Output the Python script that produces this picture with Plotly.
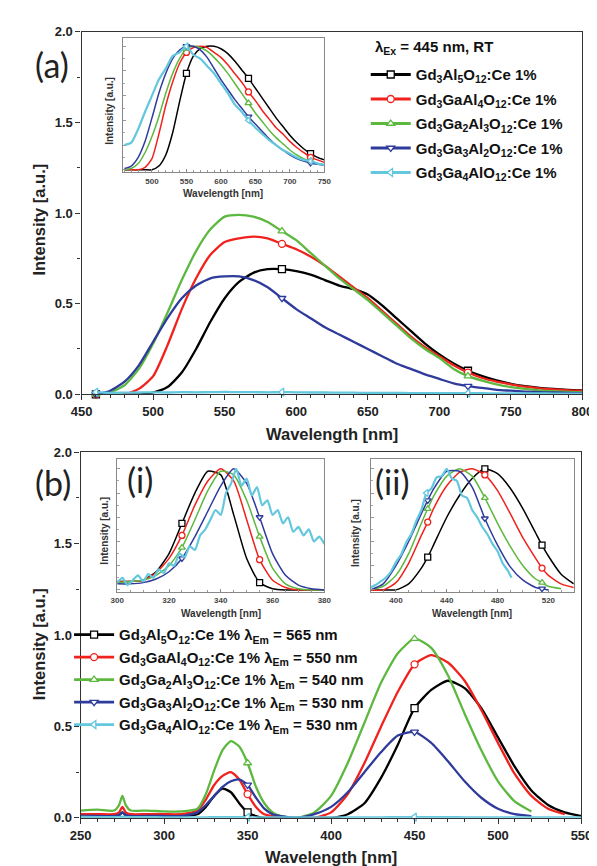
import plotly.graph_objects as go

W, H = 597, 866
FONT = "Liberation Sans, Arial, sans-serif"
LABEL_FONT = "Lato, Open Sans, sans-serif"

# ---------------- labels ----------------
SAMPLES = [
    "Gd<sub>3</sub>Al<sub>5</sub>O<sub>12</sub>:Ce 1%",
    "Gd<sub>3</sub>GaAl<sub>4</sub>O<sub>12</sub>:Ce 1%",
    "Gd<sub>3</sub>Ga<sub>2</sub>Al<sub>3</sub>O<sub>12</sub>:Ce 1%",
    "Gd<sub>3</sub>Ga<sub>3</sub>Al<sub>2</sub>O<sub>12</sub>:Ce 1%",
    "Gd<sub>3</sub>Ga<sub>4</sub>AlO<sub>12</sub>:Ce 1%",
]
EM_NM = [565, 550, 540, 530, 530]
EX_LABEL = "λ<sub>Ex</sub> = 445 nm, RT"
PANEL_LABELS = ["(a)", "(b)", "(i)", "(ii)"]
X_TITLE = "Wavelength [nm]"
Y_TITLE = "Intensity [a.u.]"

COLORS = ["#000000", "#f0221d", "#5db83f", "#2f3b9b", "#63c7dd"]
SYMBOLS = ["square", "circle", "triangle-up", "triangle-down", "triangle-left"]

# ---------------- panel (a): emission, main ----------------
EMI_X = [460, 470, 480, 490, 500, 510, 520, 530, 540, 550, 560, 570, 580, 590, 600,
         610, 620, 630, 640, 650, 660, 670, 680, 690, 700, 710, 720, 730, 740, 750,
         760, 770, 780, 790, 800]
EMI_BLACK = [0, 0, 0, 0, 0.01, 0.04, 0.12, 0.25, 0.4, 0.53, 0.62, 0.67, 0.69, 0.69, 0.68,
             0.66, 0.63, 0.6, 0.58, 0.55, 0.49, 0.42, 0.35, 0.28, 0.22, 0.17, 0.13, 0.1, 0.077, 0.058,
             0.045, 0.036, 0.03, 0.025, 0.022]
EMI_RED = [0, 0, 0, 0.03, 0.1, 0.27, 0.47, 0.64, 0.77, 0.84, 0.86, 0.87, 0.86, 0.83, 0.8,
           0.76, 0.71, 0.65, 0.59, 0.53, 0.46, 0.39, 0.32, 0.26, 0.21, 0.16, 0.12, 0.09, 0.07, 0.055,
           0.042, 0.033, 0.027, 0.022, 0.02]
EMI_GREEN = [0, 0.01, 0.05, 0.14, 0.28, 0.45, 0.63, 0.79, 0.91, 0.98, 0.99, 0.98, 0.95, 0.9, 0.85,
             0.78, 0.71, 0.64, 0.58, 0.52, 0.45, 0.38, 0.31, 0.25, 0.2, 0.14, 0.1, 0.075, 0.055, 0.04,
             0.03, 0.022, 0.017, 0.013, 0.01]
EMI_BLUE = [0, 0.02, 0.07, 0.16, 0.29, 0.42, 0.53, 0.6, 0.64, 0.65, 0.65, 0.63, 0.59, 0.53, 0.47,
            0.42, 0.37, 0.33, 0.29, 0.25, 0.21, 0.17, 0.14, 0.11, 0.085, 0.06, 0.045, 0.035, 0.025, 0.02,
            0.015, 0.012, 0.01, 0.008, 0.007]
EMI_CYAN = [0.012, 0.008, 0.009, 0.01, 0.011, 0.01, 0.012, 0.011, 0.012, 0.013, 0.012, 0.012, 0.011, 0.012, 0.011,
            0.01, 0.01, 0.009, 0.009, 0.008, 0.008, 0.008, 0.007, 0.007, 0.007, 0.006, 0.006, 0.006, 0.005, 0.005,
            0.005, 0.005, 0.004, 0.004, 0.004]
EMI_MARKS = [460, 590, 720]

# ---------------- panel (a): normalized inset ----------------
INA_X = [460, 470, 480, 490, 500, 510, 520, 530, 540, 550, 560, 570, 580, 590, 600,
         610, 620, 630, 640, 650, 660, 670, 680, 690, 700, 710, 720, 730, 740, 750]
INA_BLACK = [0, 0, 0, 0, 0.0, 0.03, 0.12, 0.3, 0.55, 0.78, 0.92, 0.98, 1.0, 1.0, 0.98,
             0.94, 0.88, 0.81, 0.74, 0.66, 0.58, 0.5, 0.42, 0.35, 0.28, 0.22, 0.17, 0.13, 0.1, 0.08]
INA_RED = [0, 0, 0, 0.02, 0.09, 0.29, 0.52, 0.71, 0.86, 0.95, 0.99, 1.0, 0.99, 0.95, 0.91,
           0.85, 0.78, 0.71, 0.63, 0.56, 0.48, 0.41, 0.34, 0.29, 0.23, 0.18, 0.14, 0.1, 0.08, 0.06]
INA_GREEN = [0, 0.01, 0.05, 0.14, 0.27, 0.43, 0.62, 0.78, 0.9, 0.98, 1.0, 0.99, 0.96, 0.91, 0.85,
             0.78, 0.7, 0.62, 0.54, 0.46, 0.39, 0.32, 0.26, 0.21, 0.16, 0.12, 0.09, 0.07, 0.05, 0.035]
INA_BLUE = [0.01, 0.03, 0.1, 0.23, 0.42, 0.62, 0.78, 0.9, 0.97, 1.0, 1.0, 0.97, 0.91, 0.82, 0.73,
            0.65, 0.57, 0.5, 0.43, 0.37, 0.31, 0.25, 0.2, 0.16, 0.12, 0.09, 0.07, 0.055, 0.045, 0.04]
INA_CYAN = [0.2, 0.22, 0.33, 0.47, 0.6, 0.73, 0.82, 0.92, 0.95, 1.0, 0.93, 0.9, 0.84, 0.78, 0.7,
            0.62, 0.53, 0.47, 0.4, 0.34, 0.29, 0.24, 0.2, 0.16, 0.13, 0.1, 0.08, 0.07, 0.05, 0.04]
INA_MARKS = [550, 640, 730]

# ---------------- panel (b): excitation, main ----------------
EXC_X = [250, 260, 270, 273, 275, 277, 280, 290, 300, 310,
         320, 325, 330, 335, 340, 345, 350, 355, 360, 365,
         370, 380, 390, 400, 410, 420, 430, 440, 450, 460,
         470, 480, 490, 500, 510, 520, 530, 540, 550]
EXC_BLACK = [0.01, 0.01, 0.01, 0.015, 0.03, 0.015, 0.01, 0.01, 0.01, 0.01,
             0.02, 0.06, 0.12, 0.16, 0.14, 0.08, 0.03, 0.01, 0.0, 0.0,
             0.0, 0.0, 0.0, 0.0, 0.02, 0.08, 0.22, 0.4, 0.6, 0.7,
             0.75, 0.71, 0.6, 0.44, 0.28, 0.15, 0.07, 0.03, 0.01]
EXC_RED = [0.02, 0.02, 0.02, 0.03, 0.06, 0.03, 0.02, 0.02, 0.02, 0.02,
           0.04, 0.1, 0.18, 0.23, 0.25, 0.21, 0.13, 0.06, 0.02, 0.01,
           0.0, 0.0, 0.0, 0.03, 0.13, 0.3, 0.5, 0.69, 0.84, 0.89,
           0.85, 0.75, 0.59, 0.41, 0.24, 0.12, 0.05, 0.02, None]
EXC_GREEN = [0.04, 0.045, 0.04, 0.07, 0.12, 0.07, 0.04, 0.04, 0.035, 0.035,
             0.05, 0.13, 0.26, 0.37, 0.42, 0.39, 0.3, 0.17, 0.08, 0.03,
             0.01, 0.0, 0.03, 0.12, 0.3, 0.52, 0.74, 0.9, 0.98, 0.93,
             0.78, 0.57, 0.37, 0.2, 0.09, 0.035, None, None, None]
EXC_BLUE = [0.01, 0.01, 0.01, 0.015, 0.03, 0.015, 0.01, 0.01, 0.01, 0.01,
            0.03, 0.07, 0.12, 0.17, 0.2, 0.21, 0.18, 0.11, 0.05, 0.02,
            0.01, 0.0, 0.02, 0.06, 0.14, 0.25, 0.36, 0.45, 0.47, 0.41,
            0.31, 0.2, 0.11, 0.05, 0.02, 0.01, None, None, None]
EXC_CYAN = [0.005, 0.004, 0.004, 0.004, 0.006, 0.004, 0.004, 0.004, 0.003, 0.003,
            0.003, 0.003, 0.004, 0.004, 0.004, 0.004, 0.003, 0.003, 0.003, 0.003,
            0.003, 0.002, 0.002, 0.003, 0.003, 0.003, 0.003, 0.004, 0.004, 0.004,
            0.004, 0.003, 0.003, 0.003, 0.003, 0.003, 0.002, 0.002, 0.002]
EXC_MARKS = [350, 450]

# ---------------- panel (b) inset (i): first band, normalized ----------------
IN1_X = [300, 305, 310, 315, 320, 325, 330, 335, 340, 345, 350, 355, 360, 365, 370, 375, 380]
IN1_BLACK = [0.07, 0.07, 0.08, 0.15, 0.3, 0.55, 0.8, 0.98, 0.95, 0.62, 0.26, 0.06, 0.01, 0.0, 0.0, 0.0, 0.0]
IN1_RED = [0.07, 0.07, 0.08, 0.14, 0.26, 0.45, 0.7, 0.9, 1.0, 0.9, 0.58, 0.25, 0.08, 0.02, 0.0, 0.0, 0.0]
IN1_GREEN = [0.06, 0.07, 0.08, 0.12, 0.2, 0.35, 0.58, 0.82, 0.98, 0.95, 0.74, 0.44, 0.18, 0.05, 0.01, 0.0, 0.0]
IN1_BLUE = [0.05, 0.05, 0.06, 0.09, 0.15, 0.26, 0.44, 0.65, 0.86, 1.0, 0.88, 0.6, 0.3, 0.12, 0.04, 0.01, 0.0]
IN1_CYAN_X = [300, 302, 304, 306, 308, 310, 312, 314, 316, 318, 320, 322, 324, 326, 328, 330, 332, 334,
              336, 338, 340, 342, 344, 346, 348, 350, 352, 354, 356, 358, 360, 362, 364, 366, 368, 370,
              372, 374, 376, 378, 380]
IN1_CYAN = [0.06, 0.1, 0.04, 0.08, 0.12, 0.07, 0.13, 0.1, 0.17, 0.14, 0.22, 0.2, 0.3, 0.27, 0.36, 0.33, 0.45, 0.5,
            0.58, 0.66, 0.62, 0.8, 0.88, 1.0, 0.86, 0.92, 0.78, 0.85, 0.7, 0.74, 0.62, 0.66, 0.55, 0.6, 0.48, 0.52,
            0.45, 0.5, 0.4, 0.44, 0.38]
IN1_MARKS = [325, 355]

# ---------------- panel (b) inset (ii): second band, normalized ----------------
IN2_X = [380, 390, 400, 410, 420, 425, 430, 440, 450, 460, 470, 480, 490, 500, 510, 515, 520, 530, 540]
IN2_BLACK = [0, 0, 0.0, 0.05, 0.18, 0.27, 0.38, 0.6, 0.78, 0.92, 1.0, 0.96, 0.84, 0.67, 0.47, 0.37, 0.28, 0.13, 0.05]
IN2_RED = [0, 0.0, 0.06, 0.22, 0.45, 0.56, 0.68, 0.86, 0.97, 1.0, 0.95, 0.82, 0.63, 0.43, 0.26, 0.18, 0.12, 0.05, 0.02]
IN2_GREEN = [0, 0.03, 0.12, 0.3, 0.55, 0.67, 0.78, 0.94, 1.0, 0.94, 0.76, 0.55, 0.36, 0.2, 0.09, 0.06, 0.03, 0.01, None]
IN2_BLUE = [0.0, 0.05, 0.2, 0.4, 0.63, 0.74, 0.84, 0.98, 0.98, 0.85, 0.59, 0.37, 0.19, 0.08, 0.02, 0.01, 0.0, None, None]
IN2_CYAN_X = [380, 384, 388, 392, 396, 400, 404, 408, 412, 416, 420, 424, 428, 432, 436, 440, 444, 448,
              452, 456, 460, 464, 468, 472, 476, 480, 484, 488, 491]
IN2_CYAN = [0.02, 0.04, 0.07, 0.1, 0.15, 0.23, 0.29, 0.39, 0.46, 0.57, 0.66, 0.8, 0.84, 0.93, 0.94, 1.0, 0.92, 0.9,
            0.78, 0.76, 0.66, 0.6, 0.52, 0.46, 0.38, 0.32, 0.22, 0.16, 0.1]
IN2_MARKS = [425, 470, 515]


def px(xp):
    return xp / W


def py(yp):
    return 1 - yp / H


fig = go.Figure()


def add_series(xs, ys, color, symbol, xa, ya, marks, lw, msize):
    fig.add_trace(go.Scatter(x=xs, y=ys, mode="lines", line=dict(color=color, width=lw, shape="spline",
                                                                  smoothing=0.6),
                             xaxis=xa, yaxis=ya, showlegend=False, hoverinfo="skip"))
    mx = [m for m in marks if m in xs]
    my = [ys[xs.index(m)] for m in mx]
    if mx:
        fig.add_trace(go.Scatter(x=mx, y=my, mode="markers",
                                 marker=dict(symbol=symbol, size=msize, color="white",
                                             line=dict(color=color, width=1.3)),
                                 xaxis=xa, yaxis=ya, showlegend=False, hoverinfo="skip", cliponaxis=False))


# panel (a) main
for ys, c, s in zip([EMI_BLACK, EMI_RED, EMI_GREEN, EMI_BLUE, EMI_CYAN], COLORS, SYMBOLS):
    add_series(EMI_X, ys, c, s, "x", "y", EMI_MARKS, 2.3, 7)
# panel (a) inset
for ys, c, s in zip([INA_BLACK, INA_RED, INA_GREEN, INA_BLUE], COLORS[:4], SYMBOLS[:4]):
    add_series(INA_X, ys, c, s, "x2", "y2", INA_MARKS, 1.5, 6)
add_series(INA_X, INA_CYAN, COLORS[4], SYMBOLS[4], "x2", "y2", INA_MARKS, 2.2, 6)
# panel (b) main
for ys, c, s in zip([EXC_BLACK, EXC_RED, EXC_GREEN, EXC_BLUE, EXC_CYAN], COLORS, SYMBOLS):
    add_series(EXC_X, ys, c, s, "x3", "y3", EXC_MARKS, 2.3, 7)
# inset (i)
for ys, c, s in zip([IN1_BLACK, IN1_RED, IN1_GREEN, IN1_BLUE], COLORS[:4], SYMBOLS[:4]):
    add_series(IN1_X, ys, c, s, "x4", "y4", IN1_MARKS, 1.5, 6)
add_series(IN1_CYAN_X, IN1_CYAN, COLORS[4], SYMBOLS[4], "x4", "y4", [], 2.2, 6)
# inset (ii)
for ys, c, s in zip([IN2_BLACK, IN2_RED, IN2_GREEN, IN2_BLUE], COLORS[:4], SYMBOLS[:4]):
    add_series(IN2_X, ys, c, s, "x5", "y5", IN2_MARKS, 1.5, 6)
add_series(IN2_CYAN_X, IN2_CYAN, COLORS[4], SYMBOLS[4], "x5", "y5", [424], 2.2, 6)

# legend entries (line + marker samples)
for i, (name, c, s) in enumerate(zip(SAMPLES, COLORS, SYMBOLS)):
    fig.add_trace(go.Scatter(x=[None], y=[None], mode="lines+markers", name=name,
                             line=dict(color=c, width=2.8),
                             marker=dict(symbol=s, size=7, color="white", line=dict(color=c, width=1.3)),
                             legend="legend", legendgroup="a%d" % i))
for i, (name, c, s, em) in enumerate(zip(SAMPLES, COLORS, SYMBOLS, EM_NM)):
    fig.add_trace(go.Scatter(x=[None], y=[None], mode="lines+markers",
                             name="%s λ<sub>Em</sub> = %d nm" % (name, em),
                             line=dict(color=c, width=2.8),
                             marker=dict(symbol=s, size=7, color="white", line=dict(color=c, width=1.3)),
                             legend="legend2", legendgroup="b%d" % i))

TICKFONT = dict(family=FONT, size=13, color="#222", weight="bold")
SMALLFONT = dict(family=FONT, size=8, color="#444", weight="bold")


def main_x(dom, rng, anchor):
    return dict(domain=dom, range=rng, anchor=anchor, showline=True, linecolor="#333", linewidth=1.3,
                mirror=True, ticks="outside", ticklen=5, tickwidth=1.3, tickcolor="#333", dtick=50,
                showgrid=False, zeroline=False, tickfont=TICKFONT,
                minor=dict(ticks="outside", ticklen=3, tickwidth=1, tickcolor="#333", dtick=10, showgrid=False))


def main_y(dom, anchor):
    return dict(domain=dom, range=[0, 2], anchor=anchor, showline=True, linecolor="#333", linewidth=1.3,
                mirror=True, ticks="outside", ticklen=5, tickwidth=1.3, tickcolor="#333", dtick=0.5,
                tickformat=".1f", showgrid=False, zeroline=False, tickfont=TICKFONT,
                minor=dict(ticks="outside", ticklen=3, tickwidth=1, tickcolor="#333", dtick=0.25, showgrid=False))


def inset_x(dom, rng, anchor, dtick, minor):
    return dict(domain=dom, range=rng, anchor=anchor, showline=True, linecolor="#888", linewidth=1,
                mirror=True, ticks="inside", ticklen=3, tickwidth=1, tickcolor="#888", dtick=dtick,
                showgrid=False, zeroline=False, tickfont=SMALLFONT, ticklabelstandoff=1,
                minor=dict(ticks="inside", ticklen=2, tickwidth=1, tickcolor="#999", dtick=minor, showgrid=False))


def inset_y(dom, rng, anchor):
    return dict(domain=dom, range=rng, anchor=anchor, showline=True, linecolor="#888", linewidth=1,
                mirror=True, ticks="inside", ticklen=3, tickwidth=1, tickcolor="#999", dtick=0.2,
                showticklabels=False, showgrid=False, zeroline=False,
                minor=dict(ticks="inside", ticklen=2, tickwidth=1, tickcolor="#aaa", dtick=0.1, showgrid=False))


XA = [px(65), px(585)]
XB = [px(64), px(584)]
fig.update_layout(
    xaxis=main_x(XA, [450, 800], "y"),
    yaxis=main_y([py(386), py(17)], "x"),
    xaxis2=inset_x([px(108), px(317)], [458, 750], "y2", 50, 10),
    yaxis2=inset_y([py(160), py(23)], [-0.02, 1.07], "x2"),
    xaxis3=main_x(XB, [250, 550], "y3"),
    yaxis3=main_y([py(817), py(445)], "x3"),
    xaxis4=inset_x([px(102), px(317)], [300, 380], "y4", 20, 5),
    yaxis4=inset_y([py(587), py(452)], [-0.016, 1.08], "x4"),
    xaxis5=inset_x([px(365), px(576)], [380, 540], "y5", 40, 10),
    yaxis5=inset_y([py(587), py(452)], [-0.016, 1.08], "x5"),
)

LEGFONT = dict(family=FONT, size=15, color="#111", weight="bold")
fig.update_layout(
    legend=dict(x=px(360), y=py(44), xanchor="left", yanchor="top", bgcolor="rgba(0,0,0,0)",
                font=LEGFONT, tracegroupgap=2, itemwidth=40),
    legend2=dict(x=px(52), y=py(614), xanchor="left", yanchor="top", bgcolor="rgba(0,0,0,0)",
                 font=LEGFONT, tracegroupgap=0, itemwidth=40),
)

ann = []
ann.append(dict(text=EX_LABEL, x=px(368), y=py(33), xref="paper", yref="paper", showarrow=False,
                xanchor="left", yanchor="middle", font=LEGFONT))
for text, (cx, cy) in zip(PANEL_LABELS, [(34, 50), (35, 476), (126, 473), (387, 475)]):
    ann.append(dict(text=text, x=px(cx), y=py(cy), xref="paper", yref="paper", showarrow=False,
                    xanchor="center", yanchor="middle",
                    font=dict(family=LABEL_FONT, size=34, color="#222")))
TITLEFONT = dict(family=FONT, size=16.5, color="#222", weight="bold")
for cx, cy in [(325, 426), (324, 857)]:
    ann.append(dict(text=X_TITLE, x=px(cx), y=py(cy), xref="paper", yref="paper", showarrow=False,
                    xanchor="center", yanchor="middle", font=TITLEFONT))
for cx, cy in [(21, 208), (21, 640)]:
    ann.append(dict(text=Y_TITLE, x=px(cx), y=py(cy), xref="paper", yref="paper", showarrow=False,
                    xanchor="center", yanchor="middle", textangle=-90, font=TITLEFONT))
INFONT = dict(family=FONT, size=10, color="#333", weight="bold")
for cx, cy in [(212, 182), (210, 609), (470, 609)]:
    ann.append(dict(text=X_TITLE, x=px(cx), y=py(cy), xref="paper", yref="paper", showarrow=False,
                    xanchor="center", yanchor="middle", font=INFONT))
for cx, cy in [(94, 98), (89, 525), (350, 527)]:
    ann.append(dict(text=Y_TITLE, x=px(cx), y=py(cy), xref="paper", yref="paper", showarrow=False,
                    xanchor="center", yanchor="middle", textangle=-90, font=INFONT))

fig.update_layout(
    annotations=ann,
    width=W, height=H,
    margin=dict(l=0, r=0, t=0, b=0),
    paper_bgcolor="white", plot_bgcolor="white",
    font=dict(family=FONT, color="#222"),
    hovermode=False,
)

fig.write_html("out.html")
